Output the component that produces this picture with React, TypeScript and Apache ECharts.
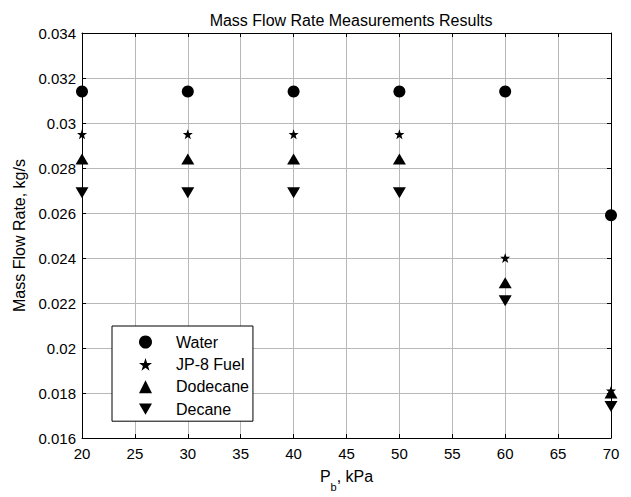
import React, { useEffect, useRef } from "react";
import * as echarts from "echarts";

const pressures = [20, 30, 40, 50, 60, 70];
const water = [0.0314, 0.0314, 0.0314, 0.0314, 0.0314, 0.0259];
const jp8 = [0.0295, 0.0295, 0.0295, 0.0295, 0.024, 0.0181];
const dodecane = [0.0284, 0.0284, 0.0284, 0.0284, 0.0229, 0.018];
const decane = [0.0269, 0.0269, 0.0269, 0.0269, 0.0221, 0.0174];
const seriesNames = ["Water", "JP-8 Fuel", "Dodecane", "Decane"];

const STAR =
  "path://M50,0 L61.8,35.4 L97.6,35.4 L68.8,57.3 L79.4,92.7 L50,70.8 L20.6,92.7 L31.2,57.3 L2.4,35.4 L38.2,35.4 Z";
const TRI_DOWN = "path://M0,0 L100,0 L50,87 Z";

export default function App() {
  const ref = useRef<HTMLDivElement>(null);
  useEffect(() => {
    if (!ref.current) return;
    const chart = echarts.init(ref.current, undefined, { renderer: "svg" });
    const font = "Liberation Sans, Arial, sans-serif";
    const mk = (vals: number[]) => pressures.map((p, i) => [p, vals[i]]);
    const symbols = ["circle", STAR, "triangle", TRI_DOWN];
    const sizes: any[] = [12, 10, [13, 11], [13, 11]];
    const datas = [water, jp8, dodecane, decane];
    const axisLine = { show: true, lineStyle: { color: "#000", width: 1 } };
    const tick = { show: true, inside: true, length: 4, lineStyle: { color: "#000" } };
    const grid = { show: true, lineStyle: { color: "#b8b8b8", width: 1 } };
    const fmt = (v: number) => String(parseFloat(v.toFixed(4)));
    chart.setOption({
      animation: false,
      backgroundColor: "#fff",
      title: {
        text: "Mass Flow Rate Measurements Results",
        left: 346,
        textAlign: "center",
        top: 7,
        textStyle: { fontFamily: font, fontSize: 16, fontWeight: "normal", color: "#000" },
      },
      grid: { left: 82, right: 20, top: 33, bottom: 48 },
      legend: {
        orient: "vertical",
        left: 112,
        top: 326,
        padding: [8, 4, 4, 27],
        itemGap: 6.4,
        itemWidth: 13,
        itemHeight: 13,
        borderColor: "#000",
        borderWidth: 1,
        borderRadius: 0,
        backgroundColor: "#fff",
        textStyle: { fontFamily: font, fontSize: 16, lineHeight: 16, color: "#000", padding: [0, 0, 0, 19] },
        data: seriesNames,
      },
      xAxis: [
        {
          type: "value",
          min: 20,
          max: 70,
          interval: 5,
          axisLine,
          axisTick: tick,
          axisLabel: { fontFamily: font, fontSize: 15, color: "#000", margin: 8 },
          splitLine: grid,
          name: "{a|P}{b|b}{a|, kPa}",
          nameLocation: "middle",
          nameGap: 30,
          nameTextStyle: {
            rich: {
              a: { fontFamily: font, fontSize: 16, color: "#000" },
              b: { fontFamily: font, fontSize: 11, color: "#000", verticalAlign: "bottom", padding: [0, 0, -8, 0] },
            },
          },
        },
        {
          type: "value",
          position: "top",
          min: 20,
          max: 70,
          interval: 5,
          axisLine,
          axisTick: tick,
          axisLabel: { show: false },
          splitLine: { show: false },
        },
      ],
      yAxis: [
        {
          type: "value",
          min: 0.016,
          max: 0.034,
          interval: 0.002,
          axisLine,
          axisTick: tick,
          axisLabel: { fontFamily: font, fontSize: 15, color: "#000", margin: 6, formatter: fmt },
          splitLine: grid,
          name: "Mass Flow Rate, kg/s",
          nameLocation: "middle",
          nameGap: 52,
          nameTextStyle: { fontFamily: font, fontSize: 16, color: "#000" },
        },
        {
          type: "value",
          position: "right",
          min: 0.016,
          max: 0.034,
          interval: 0.002,
          axisLine,
          axisTick: tick,
          axisLabel: { show: false },
          splitLine: { show: false },
        },
      ],
      series: seriesNames.map((name, i) => ({
        name,
        type: "scatter",
        xAxisIndex: 0,
        yAxisIndex: 0,
        symbol: symbols[i],
        symbolSize: sizes[i],
        clip: false,
        itemStyle: { color: "#000", opacity: 1 },
        data: mk(datas[i]),
      })),
    });
    return () => chart.dispose();
  }, []);
  return <div ref={ref} style={{ width: 631, height: 497, position: "absolute", left: 0, top: 0 }} />;
}
